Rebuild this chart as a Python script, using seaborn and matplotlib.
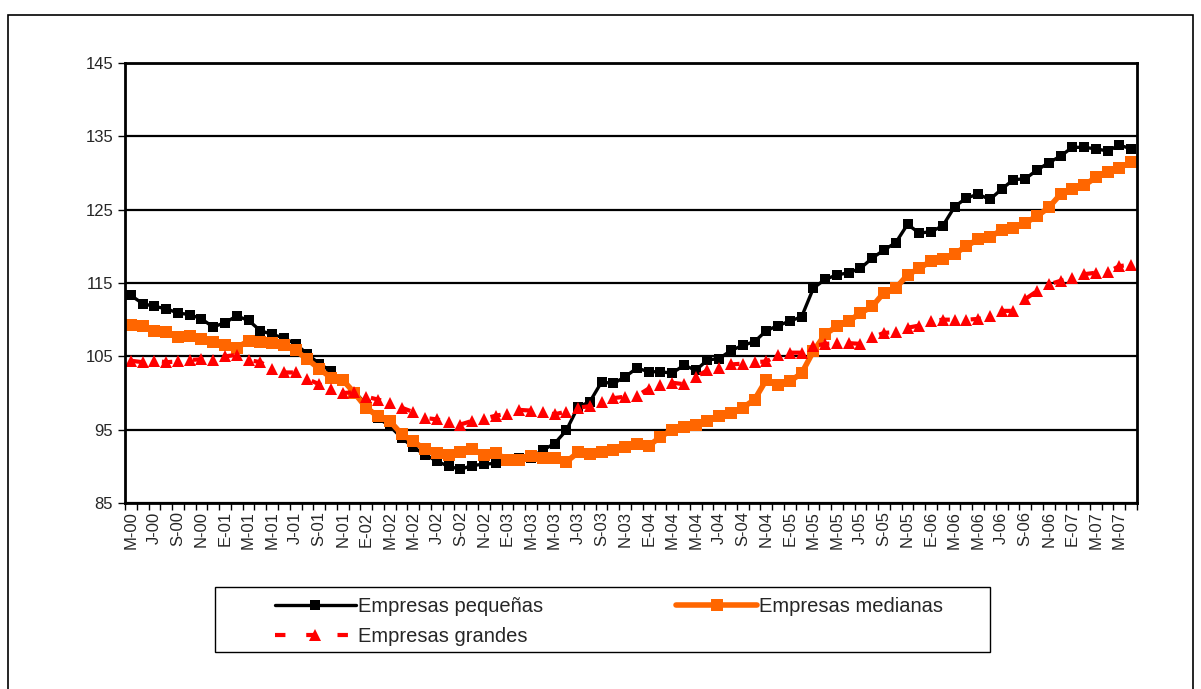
import numpy as np
import pandas as pd
import matplotlib
matplotlib.use("Agg")
import matplotlib.pyplot as plt
from matplotlib.patches import Rectangle
import seaborn as sns

# Series mensuales (may-2000 a jun-2007)
pequenas = [113.3, 112.2, 111.8, 111.5, 110.9, 110.7, 110.1, 109.0, 109.6, 110.5,
            109.9, 108.5, 108.0, 107.5, 106.7, 105.3, 104.0, 103.0, 101.6, 100.2,
            98.4, 96.6, 95.5, 93.9, 92.6, 91.6, 90.7, 90.0, 89.6, 90.1,
            90.3, 90.4, 90.8, 91.1, 91.2, 92.2, 93.1, 94.9, 98.1, 98.8,
            101.5, 101.3, 102.2, 103.4, 102.9, 102.9, 102.7, 103.8, 103.1, 104.5,
            104.7, 105.8, 106.5, 107.0, 108.5, 109.2, 109.8, 110.4, 114.3, 115.5,
            116.1, 116.4, 117.0, 118.4, 119.5, 120.5, 123.0, 121.8, 122.0, 122.8,
            125.4, 126.6, 127.1, 126.4, 127.8, 129.1, 129.2, 130.4, 131.4, 132.3,
            133.5, 133.5, 133.3, 133.0, 133.8, 133.3]
medianas = [109.3, 109.1, 108.4, 108.3, 107.6, 107.8, 107.4, 106.9, 106.5, 106.2,
            107.1, 106.9, 106.8, 106.5, 105.8, 104.6, 103.3, 102.1, 101.8, 100.0,
            98.0, 96.8, 96.2, 94.4, 93.4, 92.3, 91.8, 91.5, 91.9, 92.4,
            91.5, 91.8, 90.9, 90.9, 91.4, 91.2, 91.1, 90.6, 91.9, 91.7,
            91.9, 92.2, 92.6, 93.1, 92.8, 94.0, 95.0, 95.3, 95.7, 96.2,
            96.9, 97.3, 98.0, 99.1, 101.8, 101.1, 101.6, 102.7, 105.7, 108.0,
            109.1, 109.8, 110.9, 111.8, 113.7, 114.3, 116.1, 117.0, 118.0, 118.3,
            119.0, 120.0, 121.0, 121.3, 122.2, 122.5, 123.2, 124.1, 125.3, 127.1,
            127.8, 128.3, 129.4, 130.1, 130.7, 131.5]
grandes = [104.4, 104.2, 104.4, 104.2, 104.3, 104.5, 104.6, 104.5, 105.0, 105.2,
           104.5, 104.2, 103.3, 102.8, 102.8, 101.9, 101.2, 100.6, 100.0, 100.1,
           99.5, 99.1, 98.7, 98.0, 97.4, 96.6, 96.4, 96.0, 95.7, 96.2,
           96.5, 96.9, 97.2, 97.7, 97.6, 97.45, 97.1, 97.45, 98.0, 98.2,
           98.8, 99.3, 99.5, 99.6, 100.6, 101.1, 101.4, 101.2, 102.2, 103.1,
           103.4, 103.9, 104.0, 104.2, 104.3, 105.2, 105.5, 105.5, 106.4, 106.7,
           106.8, 106.8, 106.7, 107.6, 108.2, 108.3, 108.9, 109.2, 109.8, 110.0,
           110.0, 110.0, 110.1, 110.5, 111.2, 111.2, 112.8, 113.9, 114.8, 115.3,
           115.7, 116.2, 116.4, 116.5, 117.3, 117.5]

# Etiquetas del eje X (cada dos meses)
etiquetas = ["M-00", "J-00", "S-00", "N-00", "E-01", "M-01", "M-01", "J-01", "S-01", "N-01",
             "E-02", "M-02", "M-02", "J-02", "S-02", "N-02", "E-03", "M-03", "M-03", "J-03",
             "S-03", "N-03", "E-04", "M-04", "M-04", "J-04", "S-04", "N-04", "E-05", "M-05",
             "M-05", "J-05", "S-05", "N-05", "E-06", "M-06", "M-06", "J-06", "S-06", "N-06",
             "E-07", "M-07", "M-07"]

series = ["Empresas pequeñas", "Empresas medianas", "Empresas grandes"]

sns.set_style("white")
plt.rcParams['font.family'] = ['Liberation Sans', 'DejaVu Sans']

n = len(pequenas)
df = pd.DataFrame({"mes": np.arange(n), series[0]: pequenas,
                   series[1]: medianas, series[2]: grandes})

W, H = 1201, 689
fig = plt.figure(figsize=(W / 100, H / 100), dpi=100)
ax = fig.add_axes([125 / W, 1 - 503 / H, 1012 / W, 440 / H])

sns.lineplot(data=df, x="mes", y=series[0], ax=ax, color="black", lw=2.4,
             marker="s", markersize=7, markeredgewidth=0, label=series[0])
sns.lineplot(data=df, x="mes", y=series[1], ax=ax, color="#FF6600", lw=4,
             marker="s", markersize=8, markeredgewidth=0, label=series[1])
sns.lineplot(data=df, x="mes", y=series[2], ax=ax, color="#FF0000", lw=3,
             dashes=False, linestyle=(0, (2.5, 5)), marker="^", markersize=8.5,
             markeredgewidth=0, label=series[2])

ax.set_xlim(-0.5, n - 0.5)
ax.set_ylim(85, 145)
ax.set_yticks(range(85, 146, 10))
ax.yaxis.grid(True, color="black", lw=1.6)
ax.set_axisbelow(True)
ax.set_xlabel("")
ax.set_ylabel("")

ax.set_xticks(np.arange(0, n, 2)[:len(etiquetas)])
ax.set_xticklabels(etiquetas, rotation=90, fontsize=12)
ax.set_xticks(np.arange(-0.5, n, 1), minor=True)
ax.tick_params(axis="x", which="major", length=0, pad=6)
ax.tick_params(axis="x", which="minor", length=5, width=1, color="black",
               direction="out", bottom=True)
ax.tick_params(axis="y", length=5, width=1, color="black", direction="out",
               left=True, labelsize=12)
for s in ax.spines.values():
    s.set_color("black")
    s.set_linewidth(2)

handles, labels = ax.get_legend_handles_labels()
orden = [0, 2, 1]
ax.legend([handles[i] for i in orden], [labels[i] for i in orden],
          ncol=2, loc="center left", mode="expand",
          bbox_to_anchor=(275 / W, 1 - 654 / H, 668 / W, 65 / H),
          bbox_transform=fig.transFigure, frameon=False,
          fontsize=14.5, handlelength=4.0, handletextpad=0.1,
          borderpad=0, borderaxespad=0, labelspacing=0.55)

# recuadro de la leyenda
fig.patches.append(Rectangle((215 / W, 1 - 652 / H), 775 / W, 65 / H,
                             transform=fig.transFigure, fill=False,
                             edgecolor="black", lw=1))
# recuadro exterior del gráfico
fig.patches.append(Rectangle((8 / W, -0.01), 1185 / W, 674 / H + 0.01,
                             transform=fig.transFigure, fill=False,
                             edgecolor="black", lw=1.2))

fig.savefig("out.png", dpi=100)
